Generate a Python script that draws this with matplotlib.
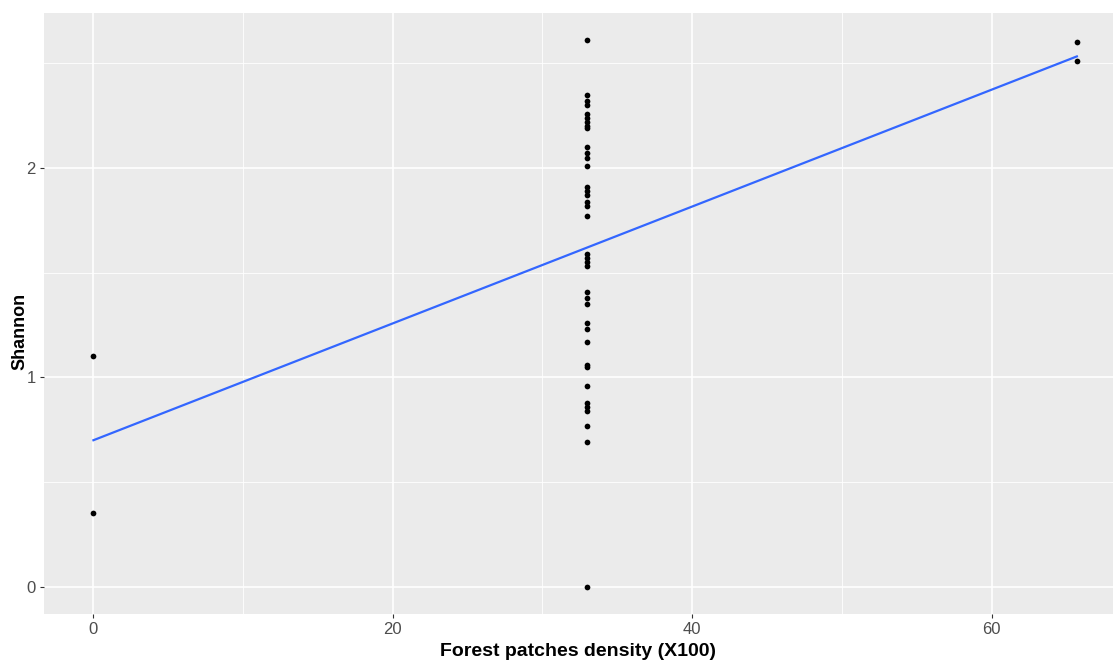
import matplotlib
matplotlib.use("Agg")
import matplotlib.pyplot as plt
import numpy as np

plt.rcParams['font.family'] = ['Liberation Sans', 'DejaVu Sans']

# forest patches density (x100) and Shannon diversity per plot
density_low = [0, 0]
shannon_low = [1.10, 0.35]

density_mid = [33] * 36
shannon_mid = [2.61,
               2.35, 2.32, 2.30,
               2.26, 2.24, 2.22, 2.20, 2.19,
               2.10, 2.07, 2.05, 2.01,
               1.91, 1.89, 1.87, 1.84, 1.82, 1.77,
               1.59, 1.57, 1.55, 1.53,
               1.41, 1.38, 1.35,
               1.26, 1.23, 1.17,
               1.06, 1.05, 0.96,
               0.88, 0.86, 0.84, 0.77]
density_mid2 = [33, 33]
shannon_mid2 = [0.69, 0.0]

density_high = [65.7, 65.7]
shannon_high = [2.60, 2.51]

# linear trend
intercept = 0.70
slope = 0.0279

x = density_low + density_mid + density_mid2 + density_high
y = shannon_low + shannon_mid + shannon_mid2 + shannon_high

fig = plt.figure(figsize=(11.15, 6.64), dpi=100)
ax = fig.add_axes([0.0395, 0.0753, 0.9585, 0.905])
ax.set_facecolor('#EBEBEB')

ax.set_xticks([0, 20, 40, 60])
ax.set_xticks([10, 30, 50], minor=True)
ax.set_yticks([0, 1, 2])
ax.set_yticks([0.5, 1.5, 2.5], minor=True)
ax.grid(which='major', color='white', linewidth=1.2)
ax.grid(which='minor', color='white', linewidth=0.6)
ax.set_axisbelow(True)
for s in ax.spines.values():
    s.set_visible(False)

ax.tick_params(which='major', length=3, color='#333333', labelsize=12,
               labelcolor='#4D4D4D', pad=3)
ax.tick_params(which='minor', length=0)

xs = np.array([min(x), max(x)])
ax.plot(xs, intercept + slope * xs, color='#3366FF', linewidth=1.6, zorder=2)
ax.scatter(x, y, s=17, color='black', zorder=3, linewidths=0)

ax.set_xlim(-3.3, 68.1)
ax.set_ylim(-0.13, 2.74)

ax.set_xlabel('Forest patches density (X100)', fontsize=14, fontweight='bold',
              labelpad=4)
ax.set_ylabel('Shannon', fontsize=13, fontweight='bold')
ax.yaxis.set_label_coords(-0.015, 0.47)

fig.savefig('out.png', dpi=100)
